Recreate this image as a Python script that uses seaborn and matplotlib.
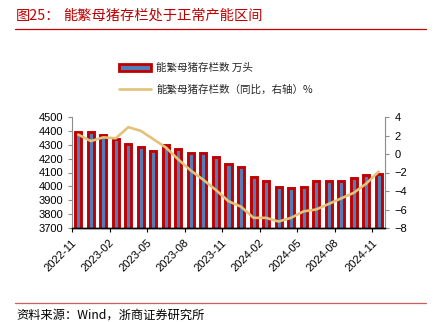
import numpy as np
import pandas as pd
import matplotlib
matplotlib.use("Agg")
import matplotlib.pyplot as plt
from matplotlib.lines import Line2D
from matplotlib.patches import Patch
import seaborn as sns

months = ["2022-11", "2022-12", "2023-01", "2023-02", "2023-03", "2023-04", "2023-05",
          "2023-06", "2023-07", "2023-08", "2023-09", "2023-10", "2023-11", "2023-12",
          "2024-01", "2024-02", "2024-03", "2024-04", "2024-05", "2024-06", "2024-07",
          "2024-08", "2024-09", "2024-10", "2024-11"]
sows = [4394, 4390, 4367, 4343, 4305, 4284, 4258, 4296, 4270, 4241, 4240, 4210, 4158,
        4142, 4067, 4042, 3992, 3986, 3996, 4038, 4042, 4036, 4062, 4079, 4086]
yoy = [2.1, 1.4, 1.8, 1.7, 2.9, 2.5, 1.6, 0.7, -0.6, -1.8, -2.8, -3.9, -5.1, -5.7,
       -6.9, -6.9, -7.3, -6.9, -6.2, -6.0, -5.4, -4.8, -4.2, -3.2, -1.9]
bar_label = "能繁母猪存栏数 万头"
line_label = "能繁母猪存栏数（同比，右轴）%"
title_prefix = "图25："
title_text = "能繁母猪存栏处于正常产能区间"
source_text = "资料来源：Wind，浙商证券研究所"

sns.set_theme(style="white")
plt.rcParams['font.family'] = ['Liberation Sans', 'Noto Sans CJK SC', 'DejaVu Sans']

RED = "#C00000"
BLUE = "#4F7EBA"
GOLD = "#E2C27A"
GRAY = "#8C8C8C"

df = pd.DataFrame({"month": months, "sows": sows, "yoy": yoy, "pos": np.arange(len(months))})

fig = plt.figure(figsize=(4.35, 3.22), dpi=100)
ax = fig.add_axes([72/435, 1-228/322, (385-72)/435, (228-117)/322])

sns.barplot(data=df, x="month", y="sows", ax=ax, color=BLUE, saturation=1,
            width=0.48, edgecolor=RED, linewidth=2.1)
ax.set_ylim(3700, 4500)
ax.set_yticks(np.arange(3700, 4501, 100))
ax.set_xlim(-0.5, len(months) - 0.5)
ax.set_xlabel("")
ax.set_ylabel("")

ax2 = ax.twinx()
sns.lineplot(data=df, x="pos", y="yoy", ax=ax2, color=GOLD, linewidth=1.9)
ax2.set_ylim(-8, 4)
ax2.set_yticks(np.arange(-8, 5, 2))
ax2.set_xlim(-0.5, len(months) - 0.5)
ax2.set_xlabel("")
ax2.set_ylabel("")

# x ticks: labels every 3 months, tick marks at category boundaries
lab_pos = np.arange(0, len(months), 3)
ax.set_xticks(lab_pos)
ax.set_xticklabels([months[i] for i in lab_pos], rotation=45, ha="right",
                   fontsize=8, color="#000000")
ax.set_xticks(lab_pos - 0.5, minor=True)
ax.tick_params(axis="x", which="major", length=0, pad=7)
ax.tick_params(axis="x", which="minor", length=3, width=0.8, color="#000000", bottom=True)
ax.tick_params(axis="y", which="major", length=3, width=0.8, color=GRAY, left=True,
               labelsize=8, pad=3, labelcolor="#000000")
ax2.tick_params(axis="y", which="major", length=3, width=0.8, color=GRAY, right=True,
                labelsize=8, pad=4, labelcolor="#000000")

for a in (ax, ax2):
    a.spines["top"].set_visible(False)
    a.spines["left"].set_color(GRAY)
    a.spines["right"].set_color(GRAY)
    a.spines["bottom"].set_color("#000000")
    a.spines["left"].set_linewidth(0.8)
    a.spines["right"].set_linewidth(0.8)
    a.spines["bottom"].set_linewidth(1.0)
    a.grid(False)
ax2.spines["left"].set_visible(False)
ax.spines["right"].set_visible(False)

# legend
handles = [Patch(facecolor=BLUE, edgecolor=RED, linewidth=2.0),
           Line2D([0], [0], color=GOLD, linewidth=1.9)]
leg = fig.legend(handles, [bar_label, line_label], loc="upper left",
                 bbox_to_anchor=(119/435, 1-63/322), frameon=False,
                 prop={"family": ["Noto Sans CJK SC", "DejaVu Sans"], "size": 7.6},
                 handlelength=3.0, handleheight=0.55, handletextpad=0.55,
                 labelspacing=1.05, borderaxespad=0, borderpad=0)

# title, rules, source
cjk = ["Noto Sans CJK SC", "DejaVu Sans"]
fig.text(16/435, 1-16/322, title_prefix, color=RED, fontsize=10.3, family=cjk, va="center")
fig.text(63/435, 1-16/322, title_text, color=RED, fontsize=10.3, family=cjk, va="center")
fig.add_artist(Line2D([15/435, 426/435], [1-29/322, 1-29/322], color=RED, linewidth=0.9))
fig.add_artist(Line2D([15/435, 426/435], [1-303/322, 1-303/322], color="#D55A5A", linewidth=0.9))
fig.text(16/435, 1-315/322, source_text, color="#000000", fontsize=8.8, family=cjk, va="center")

fig.savefig("out.png", dpi=100)
